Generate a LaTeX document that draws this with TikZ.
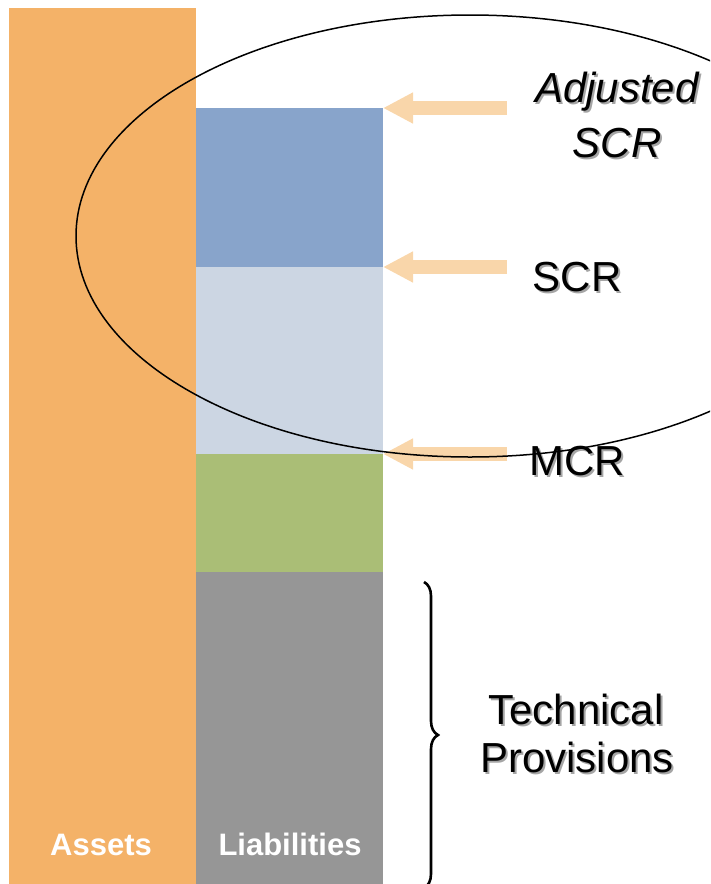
\documentclass[tikz,border=0pt]{standalone}
\usepackage{fontspec}
\setmainfont{Liberation Sans}
\usetikzlibrary{arrows.meta,decorations.pathreplacing}
\definecolor{assetfill}{RGB}{244,178,104}
\definecolor{scrtop}{RGB}{136,164,203}
\definecolor{scrlow}{RGB}{204,214,227}
\definecolor{mcrfill}{RGB}{170,190,118}
\definecolor{tpfill}{RGB}{150,150,150}
\definecolor{arrowfill}{RGB}{249,214,170}
\definecolor{shadowgray}{RGB}{165,165,165}
\tikzset{
  bigtext/.style={font=\fontsize{42}{50}\selectfont, inner sep=0pt, anchor=base},
  bigitalic/.style={bigtext, font=\fontsize{42}{50}\selectfont\itshape},
  collabel/.style={font=\fontsize{31}{36}\selectfont\bfseries, text=white, inner sep=0pt, anchor=base},
  levelarrow/.style={draw=arrowfill, line width=14pt, -{Triangle[length=30pt,width=29pt]}},
}
% text with a soft grey drop shadow set behind it
\newcommand\shadowed[1]{%
  \rlap{\kern2pt\raisebox{-2pt}{\textcolor{shadowgray}{#1}}}#1}
\begin{document}
\begin{tikzpicture}[x=1pt,y=-1pt]
\useasboundingbox (0,0) rectangle (710,884);
\clip (0,0) rectangle (710,884);

% balance sheet columns
\fill[assetfill] (9,8) rectangle (196,884);
\fill[scrtop] (196,108) rectangle (383,267);
\fill[scrlow] (196,267) rectangle (383,454);
\fill[mcrfill] (196,454) rectangle (383,572);
\fill[tpfill] (196,572) rectangle (383,884);

\node[collabel] (assets) at (101,855) {Assets};
\node[collabel] (liab) at (290,855) {Liabilities};

% level pointers
\coordinate (adjfrom) at (507,108);
\coordinate (adjto) at (383,108);
\coordinate (scrfrom) at (507,267);
\coordinate (scrto) at (383,267);
\coordinate (mcrfrom) at (507,454);
\coordinate (mcrto) at (383,454);
\draw[levelarrow] (adjfrom) -- (adjto);
\draw[levelarrow] (scrfrom) -- (scrto);
\draw[levelarrow] (mcrfrom) -- (mcrto);

% labels
\node[bigitalic] (adj1) at (617,102) {\shadowed{Adjusted}};
\node[bigitalic] (adj2) at (617,157) {\shadowed{SCR}};
\node[bigtext] (scr) at (577,291) {\shadowed{SCR}};
\node[bigtext] (mcr) at (577,475) {\shadowed{MCR}};
\node[bigtext] (tp1) at (576,724) {\shadowed{Technical}};
\node[bigtext] (tp2) at (577,772) {\shadowed{Provisions}};

% brace around the technical provisions
\coordinate (bracetop) at (424,582);
\coordinate (bracebot) at (424,888);
\draw[line width=2.6pt, decorate, decoration={brace, amplitude=14pt}] (bracetop) -- (bracebot);

% adjusted SCR region
\draw[line width=1.5pt] (470,236) ellipse [x radius=394, y radius=221];
\end{tikzpicture}
\end{document}
